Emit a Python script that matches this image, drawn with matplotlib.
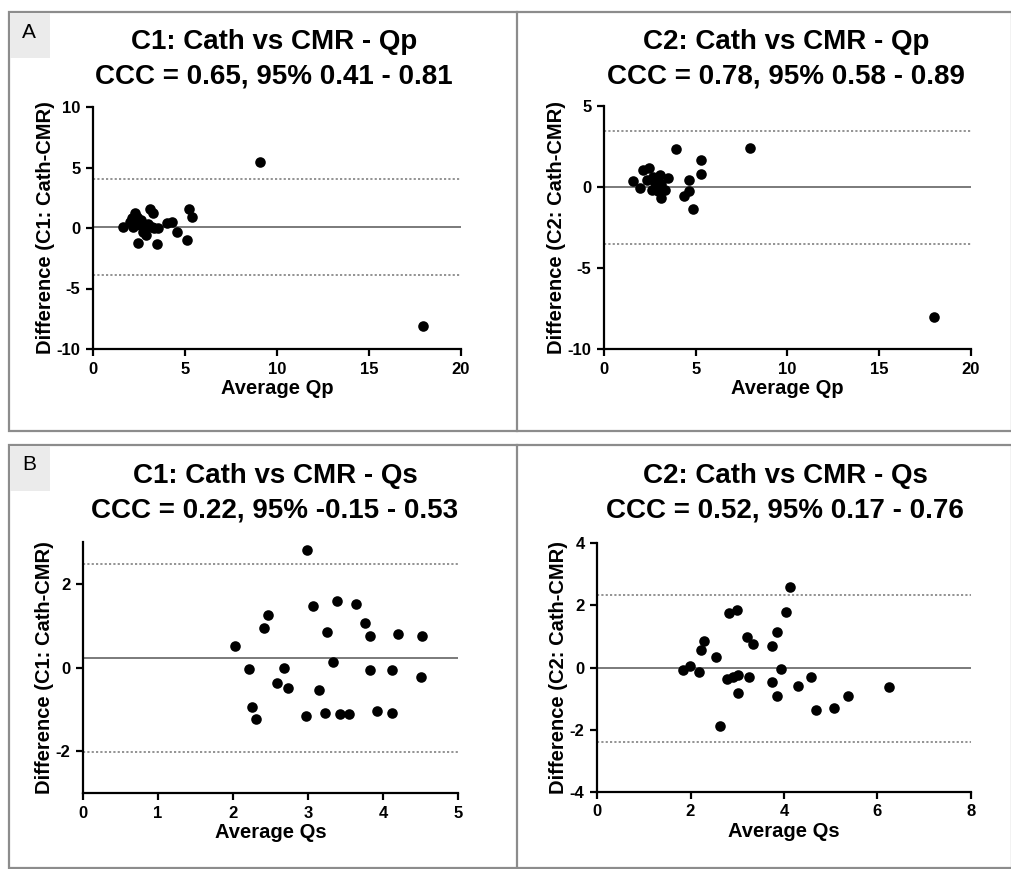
import matplotlib
matplotlib.use("Agg")
import matplotlib.pyplot as plt
from matplotlib.patches import Rectangle
from matplotlib.lines import Line2D

plt.rcParams['font.family'] = ['Liberation Sans', 'DejaVu Sans']
plt.rcParams['axes.unicode_minus'] = False

# --- data (Bland-Altman: average vs difference) ---
qp_c1_avg = [1.65, 2.1, 2.28, 2.37, 2.19, 2.46, 2.55, 2.73, 2.88, 3.1, 3.28, 3.19, 3.46,
             3.55, 4.0, 4.28, 4.58, 5.09, 5.22, 5.4, 9.08, 17.95, 2.0, 2.6, 3.0, 3.3, 2.4, 2.9]
qp_c1_diff = [0.1, 0.8, 1.27, 0.52, 0.1, -1.21, 0.25, -0.3, -0.58, 1.54, 1.21, 0.1, -1.32,
              0.03, 0.38, 0.52, -0.3, -0.99, 1.54, 0.88, 5.45, -8.1, 0.5, 0.7, 0.3, 0.0, 0.9, 0.05]
qp_c1_bias, qp_c1_lo, qp_c1_hi = 0.1, -3.86, 4.05

qp_c2_avg = [1.6, 1.96, 2.1, 2.46, 2.32, 2.6, 2.78, 2.96, 3.09, 3.05, 3.32, 3.5, 4.64,
             4.37, 4.62, 4.86, 5.28, 5.28, 2.69, 3.1, 3.92, 7.98, 17.97]
qp_c2_diff = [0.35, -0.06, 1.07, 1.17, 0.45, -0.16, 0.25, -0.27, -0.68, 0.76, -0.16, 0.56, 0.45,
              -0.58, -0.27, -1.34, 1.64, 0.82, 0.62, 0.2, 2.34, 2.38, -8.02]
qp_c2_bias, qp_c2_lo, qp_c2_hi = 0.0, -3.5, 3.47

qs_c1_avg = [2.98, 2.03, 2.21, 2.41, 2.47, 2.25, 2.3, 2.58, 2.68, 2.73, 2.97, 3.06, 3.15,
             3.26, 3.33, 3.39, 3.23, 3.43, 3.55, 3.64, 3.76, 3.82, 3.82, 3.92, 4.12, 4.12,
             4.2, 4.52, 4.51]
qs_c1_diff = [2.81, 0.51, -0.04, 0.95, 1.25, -0.94, -1.22, -0.38, 0.0, -0.5, -1.17, 1.47, -0.53,
              0.84, 0.14, 1.59, -1.09, -1.12, -1.12, 1.51, 1.07, 0.76, -0.05, -1.05, -0.06, -1.08,
              0.81, 0.76, -0.22]
qs_c1_bias, qs_c1_lo, qs_c1_hi = 0.23, -2.02, 2.47

qs_c2_avg = [4.13, 1.83, 1.99, 2.18, 2.22, 2.29, 2.54, 2.64, 2.79, 2.83, 2.9, 2.99, 3.02,
             3.02, 3.21, 3.26, 3.34, 3.75, 3.75, 3.85, 3.86, 3.93, 4.04, 4.3, 4.57, 4.68,
             5.07, 5.36, 6.25]
qs_c2_diff = [2.6, -0.07, 0.05, -0.16, 0.57, 0.84, 0.34, -1.87, -0.37, 1.75, -0.29, 1.85, -0.82,
              -0.23, 0.98, -0.29, 0.75, 0.7, -0.48, 1.13, -0.9, -0.04, 1.78, -0.59, -0.32, -1.36,
              -1.29, -0.91, -0.62]
qs_c2_bias, qs_c2_lo, qs_c2_hi = 0.0, -2.38, 2.33

W, H = 1012, 869
fig = plt.figure(figsize=(W / 100, H / 100), dpi=100)
GREY = "#8c8c8c"


def px(x, y):
    return x / W, 1 - y / H


def add_ax(x0, y0, x1, y1):
    return fig.add_axes([x0 / W, 1 - y1 / H, (x1 - x0) / W, (y1 - y0) / H])


def bland_altman(ax, avg, diff, bias, lo, hi, xlim, ylim, xticks, yticks, xlabel, ylabel):
    ax.axhline(bias, color="#7a7a7a", lw=1.4, zorder=1)
    for lim in (lo, hi):
        ax.axhline(lim, color="#8a8a8a", lw=1.3, ls=(0, (1.2, 1.2)), zorder=1)
    ax.scatter(avg, diff, s=58, color="black", zorder=3, clip_on=False, linewidths=0)
    ax.set_xlim(*xlim); ax.set_ylim(*ylim)
    ax.set_xticks(xticks); ax.set_yticks(yticks)
    for s in ("top", "right"):
        ax.spines[s].set_visible(False)
    for s in ("left", "bottom"):
        ax.spines[s].set_linewidth(1.6)
    ax.tick_params(width=1.6, length=5, labelsize=12, pad=4)
    for t in ax.get_xticklabels() + ax.get_yticklabels():
        t.set_fontweight("bold")
    ax.set_xlabel(xlabel, fontsize=14.5, fontweight="bold", labelpad=2)
    ax.set_ylabel(ylabel, fontsize=14.5, fontweight="bold", labelpad=1)


ax1 = add_ax(93, 107, 461, 349)
bland_altman(ax1, qp_c1_avg, qp_c1_diff, qp_c1_bias, qp_c1_lo, qp_c1_hi,
             (0, 20), (-10, 10), [0, 5, 10, 15, 20], [-10, -5, 0, 5, 10],
             "Average Qp", "Difference (C1: Cath-CMR)")
ax2 = add_ax(604, 106, 971, 349)
bland_altman(ax2, qp_c2_avg, qp_c2_diff, qp_c2_bias, qp_c2_lo, qp_c2_hi,
             (0, 20), (-10, 5), [0, 5, 10, 15, 20], [-10, -5, 0, 5],
             "Average Qp", "Difference (C2: Cath-CMR)")
ax3 = add_ax(83, 542, 458, 793)
bland_altman(ax3, qs_c1_avg, qs_c1_diff, qs_c1_bias, qs_c1_lo, qs_c1_hi,
             (0, 5), (-3, 3), [0, 1, 2, 3, 4, 5], [-2, 0, 2],
             "Average Qs", "Difference (C1: Cath-CMR)")
ax4 = add_ax(597, 543, 971, 792)
bland_altman(ax4, qs_c2_avg, qs_c2_diff, qs_c2_bias, qs_c2_lo, qs_c2_hi,
             (0, 8), (-4, 4), [0, 2, 4, 6, 8], [-4, -2, 0, 2, 4],
             "Average Qs", "Difference (C2: Cath-CMR)")

titles = [
    (274, 42, 76, "C1: Cath vs CMR - Qp", "CCC = 0.65, 95% 0.41 - 0.81"),
    (786, 42, 76, "C2: Cath vs CMR - Qp", "CCC = 0.78, 95% 0.58 - 0.89"),
    (275, 476, 510, "C1: Cath vs CMR - Qs", "CCC = 0.22, 95% -0.15 - 0.53"),
    (785, 476, 510, "C2: Cath vs CMR - Qs", "CCC = 0.52, 95% 0.17 - 0.76"),
]
for cx, y1, y2, l1, l2 in titles:
    fig.text(*px(cx, y1), l1, ha="center", va="center", fontsize=20, fontweight="bold")
    fig.text(*px(cx, y2), l2, ha="center", va="center", fontsize=20, fontweight="bold")

# panel frames and letter boxes
for top, bot, letter in ((12, 431, "A"), (445, 868, "B")):
    fig.add_artist(Rectangle(px(9, bot), (W - 9) / W, (bot - top) / H, transform=fig.transFigure,
                             fill=False, edgecolor=GREY, lw=1.6))
    fig.add_artist(Line2D([517 / W, 517 / W], [1 - top / H, 1 - bot / H], transform=fig.transFigure,
                          color=GREY, lw=1.6))
    fig.add_artist(Rectangle(px(10, top + 46), 40 / W, 45 / H, transform=fig.transFigure,
                             facecolor="#ebebeb", edgecolor="none"))
    fig.text(*px(29, top + 20), letter, ha="center", va="center", fontsize=15)

fig.savefig("out.png", dpi=100)
